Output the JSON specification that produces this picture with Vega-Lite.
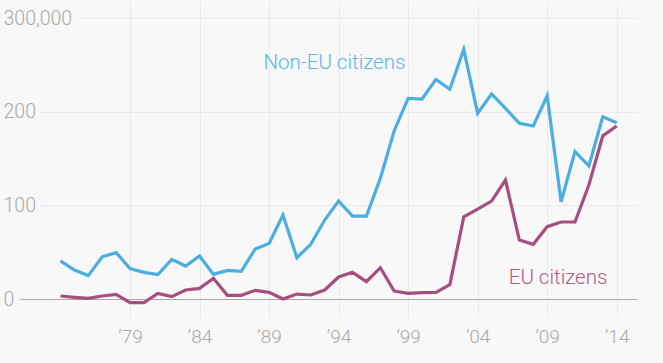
{
  "$schema": "https://vega.github.io/schema/vega-lite/v6.json",
  "width": 637,
  "height": 315,
  "autosize": {"type": "none"},
  "padding": {"left": 0, "top": 2, "right": 26, "bottom": 46},
  "background": "#f8f8f8",
  "config": {
    "view": {"stroke": null},
    "font": "Roboto"
  },
  "data": {
    "values": [
      {"year": 1974, "group": "Non-EU citizens", "value": 40.8},
      {"year": 1975, "group": "Non-EU citizens", "value": 31},
      {"year": 1976, "group": "Non-EU citizens", "value": 25},
      {"year": 1977, "group": "Non-EU citizens", "value": 45.1},
      {"year": 1978, "group": "Non-EU citizens", "value": 49.5},
      {"year": 1979, "group": "Non-EU citizens", "value": 32.5},
      {"year": 1980, "group": "Non-EU citizens", "value": 28.5},
      {"year": 1981, "group": "Non-EU citizens", "value": 26.2},
      {"year": 1982, "group": "Non-EU citizens", "value": 42.3},
      {"year": 1983, "group": "Non-EU citizens", "value": 35.2},
      {"year": 1984, "group": "Non-EU citizens", "value": 46},
      {"year": 1985, "group": "Non-EU citizens", "value": 26.3},
      {"year": 1986, "group": "Non-EU citizens", "value": 30.6},
      {"year": 1987, "group": "Non-EU citizens", "value": 29.5},
      {"year": 1988, "group": "Non-EU citizens", "value": 53.4},
      {"year": 1989, "group": "Non-EU citizens", "value": 59.4},
      {"year": 1990, "group": "Non-EU citizens", "value": 89.7},
      {"year": 1991, "group": "Non-EU citizens", "value": 44.1},
      {"year": 1992, "group": "Non-EU citizens", "value": 58.4},
      {"year": 1993, "group": "Non-EU citizens", "value": 84.3},
      {"year": 1994, "group": "Non-EU citizens", "value": 104.6},
      {"year": 1995, "group": "Non-EU citizens", "value": 88.6},
      {"year": 1996, "group": "Non-EU citizens", "value": 88.6},
      {"year": 1997, "group": "Non-EU citizens", "value": 128.8},
      {"year": 1998, "group": "Non-EU citizens", "value": 179.7},
      {"year": 1999, "group": "Non-EU citizens", "value": 214.2},
      {"year": 2000, "group": "Non-EU citizens", "value": 213.5},
      {"year": 2001, "group": "Non-EU citizens", "value": 234.5},
      {"year": 2002, "group": "Non-EU citizens", "value": 223.9},
      {"year": 2003, "group": "Non-EU citizens", "value": 266.6},
      {"year": 2004, "group": "Non-EU citizens", "value": 198.2},
      {"year": 2005, "group": "Non-EU citizens", "value": 218.9},
      {"year": 2006, "group": "Non-EU citizens", "value": 203.6},
      {"year": 2007, "group": "Non-EU citizens", "value": 187.6},
      {"year": 2008, "group": "Non-EU citizens", "value": 184.7},
      {"year": 2009, "group": "Non-EU citizens", "value": 217},
      {"year": 2010, "group": "Non-EU citizens", "value": 103.9},
      {"year": 2011, "group": "Non-EU citizens", "value": 157.3},
      {"year": 2012, "group": "Non-EU citizens", "value": 142.2},
      {"year": 2013, "group": "Non-EU citizens", "value": 194.6},
      {"year": 2014, "group": "Non-EU citizens", "value": 188.2},
      {"year": 1974, "group": "EU citizens", "value": 3.2},
      {"year": 1975, "group": "EU citizens", "value": 1.8},
      {"year": 1976, "group": "EU citizens", "value": 0.7},
      {"year": 1977, "group": "EU citizens", "value": 3.2},
      {"year": 1978, "group": "EU citizens", "value": 5},
      {"year": 1979, "group": "EU citizens", "value": -3.9},
      {"year": 1980, "group": "EU citizens", "value": -3.9},
      {"year": 1981, "group": "EU citizens", "value": 6},
      {"year": 1982, "group": "EU citizens", "value": 2.5},
      {"year": 1983, "group": "EU citizens", "value": 9.6},
      {"year": 1984, "group": "EU citizens", "value": 11.4},
      {"year": 1985, "group": "EU citizens", "value": 22.1},
      {"year": 1986, "group": "EU citizens", "value": 3.9},
      {"year": 1987, "group": "EU citizens", "value": 3.9},
      {"year": 1988, "group": "EU citizens", "value": 9.3},
      {"year": 1989, "group": "EU citizens", "value": 7.1},
      {"year": 1990, "group": "EU citizens", "value": 0},
      {"year": 1991, "group": "EU citizens", "value": 5.3},
      {"year": 1992, "group": "EU citizens", "value": 4.3},
      {"year": 1993, "group": "EU citizens", "value": 9.6},
      {"year": 1994, "group": "EU citizens", "value": 23.5},
      {"year": 1995, "group": "EU citizens", "value": 28.5},
      {"year": 1996, "group": "EU citizens", "value": 18.5},
      {"year": 1997, "group": "EU citizens", "value": 33.4},
      {"year": 1998, "group": "EU citizens", "value": 8.5},
      {"year": 1999, "group": "EU citizens", "value": 6},
      {"year": 2000, "group": "EU citizens", "value": 6.8},
      {"year": 2001, "group": "EU citizens", "value": 7.1},
      {"year": 2002, "group": "EU citizens", "value": 15.2},
      {"year": 2003, "group": "EU citizens", "value": 87.7},
      {"year": 2004, "group": "EU citizens", "value": 96},
      {"year": 2005, "group": "EU citizens", "value": 104.6},
      {"year": 2006, "group": "EU citizens", "value": 127},
      {"year": 2007, "group": "EU citizens", "value": 63},
      {"year": 2008, "group": "EU citizens", "value": 58.4},
      {"year": 2009, "group": "EU citizens", "value": 77.2},
      {"year": 2010, "group": "EU citizens", "value": 82.2},
      {"year": 2011, "group": "EU citizens", "value": 82.2},
      {"year": 2012, "group": "EU citizens", "value": 121.7},
      {"year": 2013, "group": "EU citizens", "value": 174.2},
      {"year": 2014, "group": "EU citizens", "value": 184.7}
    ]
  },
  "layer": [
    {
      "mark": {"type": "line", "strokeWidth": 3.2, "strokeJoin": "miter", "clip": true},
      "encoding": {
        "x": {
          "field": "year",
          "type": "quantitative",
          "scale": {"domain": [1969.65, 2015.46], "nice": false, "zero": false},
          "axis": {
            "values": [1979, 1984, 1989, 1994, 1999, 2004, 2009, 2014],
            "labelExpr": "'\u2019' + substring(toString(datum.value), 2)",
            "title": null,
            "domain": false,
            "ticks": false,
            "tickSize": 0,
            "grid": true,
            "gridColor": "#ebebeb",
            "gridWidth": 1,
            "labelFont": "Roboto",
            "labelFontWeight": 300,
            "labelFontSize": 19,
            "labelColor": "#a8a8a8",
            "labelBaseline": "top",
            "labelPadding": 10
          }
        },
        "y": {
          "field": "value",
          "type": "quantitative",
          "scale": {"domain": [-19.2, 317.1], "nice": false, "zero": false},
          "axis": {
            "values": [0, 100, 200, 300],
            "labelExpr": "datum.value === 300 ? '300,000' : datum.label",
            "title": null,
            "domain": false,
            "ticks": false,
            "tickSize": 0,
            "grid": true,
            "gridWidth": 1,
            "gridColor": {"condition": {"test": "datum.value === 0", "value": "#a8a8a8"}, "value": "#ebebeb"},
            "gridDash": {
              "condition": [
                {"test": "datum.value === 0", "value": [0, 20, 1000]},
                {"test": "datum.value === 300", "value": [0, 79, 1000]}
              ],
              "value": [0, 40, 1000]
            },
            "labelAlign": "left",
            "labelBaseline": "middle",
            "labelPadding": -3,
            "labelFont": "Roboto",
            "labelFontWeight": 300,
            "labelFontSize": 19.5,
            "labelColor": "#a8a8a8"
          }
        },
        "color": {
          "field": "group",
          "type": "nominal",
          "scale": {"domain": ["Non-EU citizens", "EU citizens"], "range": ["#4aafe0", "#a64f7e"]},
          "legend": null
        }
      }
    },
    {
      "data": {"values": [{}]},
      "mark": {"type": "text", "text": "Non-EU citizens", "font": "Roboto", "fontWeight": 300, "fontSize": 20.5, "color": "#5ab6e6", "align": "center", "baseline": "middle"},
      "encoding": {
        "x": {"datum": 1993.7, "type": "quantitative"},
        "y": {"datum": 252, "type": "quantitative"}
      }
    },
    {
      "data": {"values": [{}]},
      "mark": {"type": "text", "text": "EU citizens", "font": "Roboto", "fontWeight": 300, "fontSize": 20.5, "color": "#ad5a87", "align": "center", "baseline": "middle"},
      "encoding": {
        "x": {"datum": 2009.78, "type": "quantitative"},
        "y": {"datum": 22.4, "type": "quantitative"}
      }
    }
  ]
}
